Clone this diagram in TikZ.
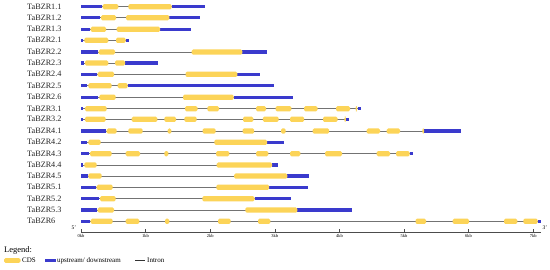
\documentclass[tikz,border=0pt]{standalone}
\usepackage{fontspec}
\setmainfont{Liberation Serif}
\definecolor{cdsY}{RGB}{252,212,88}
\definecolor{utrB}{RGB}{58,58,205}
\definecolor{intG}{RGB}{115,115,115}
\tikzset{
  cds/.style={fill=cdsY, rounded corners=1.4pt},
  utr/.style={fill=utrB},
  intron/.style={draw=intG, line width=0.7pt},
  glabel/.style={anchor=west, inner sep=0pt, text=black!85, font=\fontsize{8.2}{8}\selectfont},
  ticklab/.style={anchor=north, inner sep=0pt, font=\fontsize{4.5}{5}\selectfont},
  endlab/.style={inner sep=0pt, font=\fontsize{5.5}{6}\selectfont},
  axisline/.style={draw=black!70, line width=0.4pt},
  legtxt/.style={anchor=west, inner sep=0pt, font=\fontsize{7}{7}\selectfont},
}
\newcommand\generow[6]{%
  \node[glabel] (#1) at (27,#2) {#3};
  \draw[intron] (81,#2) -- (#4,#2);
  \foreach \a/\b in {#5} {\fill[utr] (\a,#2-1.7) rectangle (\b,#2+1.7);}
  \foreach \a/\b in {#6} {\fill[cds] (\a,#2-2.6) rectangle (\b,#2+2.6);}
}
\begin{document}
\begin{tikzpicture}[x=1pt,y=-1pt]
\useasboundingbox (0,0) rectangle (550,269);
\fill[white] (0,0) rectangle (550,269);

\generow{g11}{6.7}{TaBZR1.1}{205}{81/101.7,171.7/205}{102.7/118.3,128.3/171.7}
\generow{g12}{17.7}{TaBZR1.2}{200}{81/100,169.3/200}{101/116,126/169.3}
\generow{g13}{29.3}{TaBZR1.3}{190.7}{81/90,160/190.7}{90.7/106,116.7/160}
\generow{g21}{40.3}{TaBZR2.1}{129}{81/83.3,126/129}{84.3/108.3,116/125.7}
\generow{g22}{52}{TaBZR2.2}{266.7}{81/97.7,242.3/266.7}{98.7/115,191.7/242.3}
\generow{g23}{63}{TaBZR2.3}{158.3}{81/84,125/158.3}{85/108.3,115/125}
\generow{g24}{74.3}{TaBZR2.4}{259.5}{81/96.7,237.3/259.5}{97.7/114,185.5/237.3}
\generow{g25}{85.7}{TaBZR2.5}{274.3}{81/87.3,127.7/274.3}{88.3/111.7,117.7/127.7}
\generow{g26}{97.3}{TaBZR2.6}{293.3}{81/98.3,233.7/293.3}{99.3/115.7,183/233.7}
\generow{g31}{108.7}{TaBZR3.1}{360.7}{81/83.3,357.5/360.7}{85/106.7,185/197.5,207.3/219,256/266,275.5/291.3,304/317.5,336/350,355.6/357.2}
\generow{g32}{119.3}{TaBZR3.2}{348.5}{81/83.3,346/348.5}{85/105.7,131.7/157.3,164.3/176,184.3/196.7,243/253.3,262.8/278.7,290/304.2,323/337.5,344.4/345.9}
\generow{g41}{131}{TaBZR4.1}{461}{81/106,424.3/461}{106.7/116.7,128.3/142.7,167.7/171.3,202.5/215.7,242.5/254.2,281/285.7,312.7/329.2,366.7/380,386.7/400,422.4/424.1}
\generow{g42}{142.3}{TaBZR4.2}{284}{81/87.3,267/284}{88.3/100.7,214.3/267}
\generow{g43}{153.7}{TaBZR4.3}{413.3}{81/89,410/413.3}{90/111.7,125.7/140,164.3/168.3,216/229.3,256/268.3,290/300.3,325/342,376.7/390,396/409.7}
\generow{g44}{165}{TaBZR4.4}{278}{81/83.3,272/278}{84.3/96.7,216.7/272}
\generow{g45}{176}{TaBZR4.5}{308.5}{81/87.7,287.3/308.5}{88.3/101.7,234.2/287.3}
\generow{g51}{187.3}{TaBZR5.1}{308.3}{81/96,269.2/308.3}{96.7/112.7,216.3/269.2}
\generow{g52}{198.7}{TaBZR5.2}{291}{81/99,254.5/291}{100/115.7,202.3/254.5}
\generow{g53}{210}{TaBZR5.3}{351.7}{81/96.7,297.3/351.7}{97.7/114,245.3/297.3}
\generow{g6}{221.3}{TaBZR6}{540.7}{81/90,537.7/540.7}{90.7/112.7,125.7/139.3,165/169.3,218/230.7,258/270.3,415.5/426,452.7/469,504/517.3,523.3/537.7}

% axis
\coordinate (axL) at (81,232);
\coordinate (axR) at (540.5,232);
\draw[axisline] (axL) -- (axR);
\foreach \k in {0,...,7} {
  \coordinate (tk\k) at ({81+64.6*\k},232);
  \draw[axisline] (tk\k) -- ++(0,-3);
  \node[ticklab] (tl\k) at ([yshift=-2.2pt]tk\k) {\k kb};
}
\node[endlab] (five) at (73.8,227.5) {5'};
\node[endlab] (three) at (545,227.5) {3'};

% legend
\node[anchor=west, inner sep=0pt, font=\fontsize{8.5}{9}\selectfont] (leg) at (4,250.5) {Legend:};
\fill[cds] (4,258.2) rectangle (20.5,262.8);
\node[legtxt] (lcds) at (22,260.5) {CDS};
\fill[utr] (45,258.8) rectangle (55.5,262.2);
\node[legtxt] (lutr) at (57,260.5) {upstream/ downstream};
\coordinate (li1) at (135,260.5);
\coordinate (li2) at (145,260.5);
\draw[black!80, line width=0.6pt] (li1) -- (li2);
\node[legtxt] (lint) at (147,260.5) {Intron};
\end{tikzpicture}
\end{document}
